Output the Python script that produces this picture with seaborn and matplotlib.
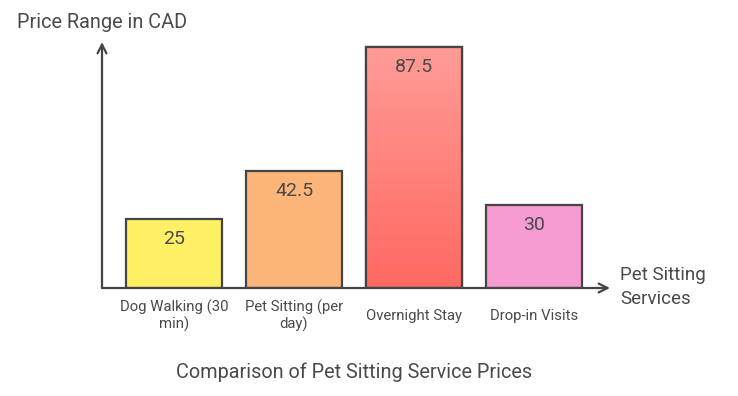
import textwrap
import numpy as np
import pandas as pd
import matplotlib
matplotlib.use("Agg")
import matplotlib.pyplot as plt
import seaborn as sns
from matplotlib.colors import LinearSegmentedColormap

services = ["Dog Walking (30 min)", "Pet Sitting (per day)", "Overnight Stay", "Drop-in Visits"]
prices = [25, 42.5, 87.5, 30]
colors = ["#FFF066", "#FDB57A", "#FF7F77", "#F79BD3"]
value_labels = ["25", "42.5", "87.5", "30"]
title = "Comparison of Pet Sitting Service Prices"
y_title = "Price Range in CAD"
x_title = "Pet Sitting\nServices"

sns.set_theme(style="white")
plt.rcParams["font.family"] = ["Roboto", "DejaVu Sans"]

W, H = 738, 396
fig = plt.figure(figsize=(W / 100, H / 100), dpi=100)
ax = fig.add_axes([102 / W, 108 / H, (610 - 102) / W, (288 - 42) / H])

df = pd.DataFrame({"service": services, "price": prices})
sns.barplot(data=df, x="service", y="price", hue="service", palette=colors,
            legend=False, width=0.8, edgecolor="#454545", linewidth=1.6,
            saturation=1, ax=ax, zorder=3)

for s in ax.spines.values():
    s.set_visible(False)
ax.set_xticks([])
ax.set_yticks([])
ax.set_xlabel("")
ax.set_ylabel("")

# gradient on the overnight bar
red = ax.patches[2]
x0, y0 = red.get_x(), red.get_y()
w, h = red.get_width(), red.get_height()
grad = np.linspace(0, 1, 256).reshape(-1, 1)
cmap = LinearSegmentedColormap.from_list("g", ["#FF6961", "#FF9C97"])
im = ax.imshow(grad, extent=[x0, x0 + w, y0, y0 + h], origin="lower",
               cmap=cmap, aspect="auto", zorder=3.5)
im.set_clip_path(red)
ax.add_patch(plt.Rectangle((x0, y0), w, h, fill=False, edgecolor="#454545",
                           linewidth=1.6, zorder=4))
ax.set_xlim(-0.6, 3.633)
ax.set_ylim(0, 89.3)

axis_col = "#454545"
ax.annotate("", xy=(0, 1.0), xytext=(0, 0), xycoords="axes fraction",
            arrowprops=dict(arrowstyle="->", color=axis_col, lw=1.6,
                            mutation_scale=16, shrinkA=0, shrinkB=0), zorder=5)
ax.annotate("", xy=(1.0, 0), xytext=(0, 0), xycoords="axes fraction",
            arrowprops=dict(arrowstyle="->", color=axis_col, lw=1.6,
                            mutation_scale=16, shrinkA=0, shrinkB=0), zorder=5)

txt_col = "#4a4a4a"
for i, (v, lab) in enumerate(zip(prices, value_labels)):
    ax.annotate(lab, xy=(i, v), xytext=(0, -14.4), textcoords="offset points",
                ha="center", va="center", fontsize=14, color=txt_col, zorder=6)

for i, s in enumerate(services):
    fig.text((174 + 120 * i) / W, 1 - 316 / H, textwrap.fill(s, 16),
             ha="center", va="center", fontsize=10.7, color=txt_col,
             linespacing=1.1)

fig.text(17 / W, 1 - 22 / H, y_title, ha="left", va="center",
         fontsize=14.3, color=txt_col)
fig.text(620 / W, 1 - 287 / H, x_title, ha="left", va="center",
         fontsize=13.5, color=txt_col, linespacing=1.4)
fig.text(354 / W, 1 - 372 / H, title, ha="center", va="center",
         fontsize=14.3, color=txt_col)

fig.savefig("out.png", dpi=100, facecolor="white")
